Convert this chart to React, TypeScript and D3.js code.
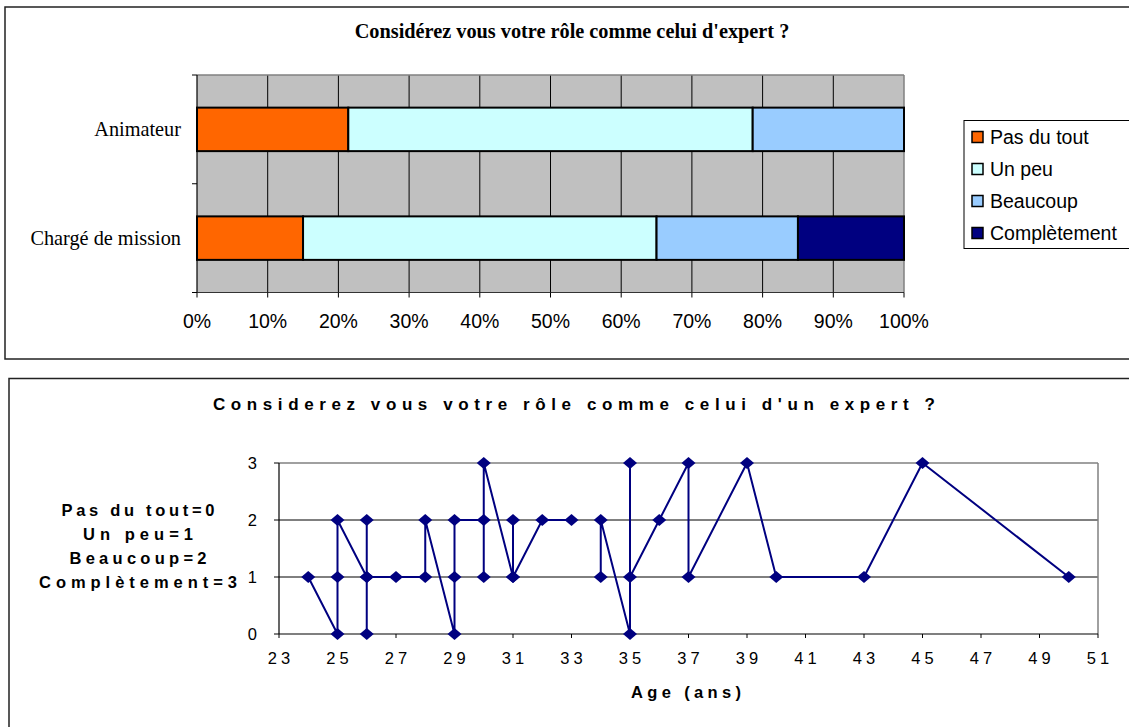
import React from "react";
import * as d3 from "d3";

// ---------- Data: top chart ----------
const categories = ["Animateur", "Chargé de mission"];
const responses = ["Pas du tout", "Un peu", "Beaucoup", "Complètement"];
const animateurShares = [21.4, 57.2, 21.4, 0];
const chargeShares = [15, 50, 20, 15];
const percentTicks = [0, 10, 20, 30, 40, 50, 60, 70, 80, 90, 100];
const responseColors = ["#FF6600", "#CCFFFF", "#99CCFF", "#000080"];

// ---------- Data: bottom chart ----------
const ages = [24, 25, 25, 25, 26, 26, 26, 26, 27, 28, 28, 29, 29, 29, 30, 30, 30, 31, 31, 31, 32, 33, null, 34, 34, 35, 35, 35, 36, 37, 37, 39, 40, 43, 45, 50];
const scores = [1, 0, 1, 2, 1, 0, 2, 1, 1, 1, 2, 0, 1, 2, 2, 1, 3, 1, 2, 1, 2, 2, null, 1, 2, 0, 3, 1, 2, 3, 1, 3, 1, 1, 3, 1];
const ageTicks = [23, 25, 27, 29, 31, 33, 35, 37, 39, 41, 43, 45, 47, 49, 51];
const scoreTicks = [0, 1, 2, 3];
const scoreLegend = ["Pas du tout=0", "Un peu=1", "Beaucoup=2", "Complètement=3"];
const scoreLegendWidths = [153, 110, 137, 198];

const SANS = "'Liberation Sans', Arial, sans-serif";
const SERIF = "'Liberation Serif', 'Times New Roman', serif";

export default function App() {
  // ---- top chart scales ----
  const xPct = d3.scaleLinear().domain([0, 100]).range([197, 904]);
  const yCat = d3.scaleBand<string>().domain(categories).range([75, 292.5]).paddingInner(0.6).paddingOuter(0.3);
  const step = yCat.step();
  const catTop = 75;
  const catBounds = d3.range(categories.length + 1).map((i) => catTop + i * step);
  const catBottom = catBounds[catBounds.length - 1];
  const shareRows = [animateurShares, chargeShares];
  const segments: { cat: string; idx: number; x0: number; x1: number }[] = [];
  categories.forEach((c, ci) => {
    let acc = 0;
    shareRows[ci].forEach((v, si) => {
      if (v > 0) segments.push({ cat: c, idx: si, x0: acc, x1: acc + v });
      acc += v;
    });
  });

  // ---- bottom chart scales ----
  const xAge = d3.scaleLinear().domain([23, 51]).range([279, 1098]);
  const yScore = d3.scaleLinear().domain([0, 3]).range([634, 463]);
  const pts = ages.map((a, i) => [a, scores[i]] as [number | null, number | null]);
  const lineGen = d3
    .line<[number | null, number | null]>()
    .defined((d) => d[0] != null && d[1] != null)
    .x((d) => xAge(d[0] as number))
    .y((d) => yScore(d[1] as number));
  const diamond = "M0,-6L7,0L0,6L-7,0Z";

  const pLeft = xPct.range()[0];
  const pRight = xPct.range()[1];
  const aLeft = xAge.range()[0];
  const aRight = xAge.range()[1];
  const sTop = yScore.range()[1];
  const sBottom = yScore.range()[0];

  return (
    <svg width={1129} height={727} style={{ position: "absolute", left: 0, top: 0, background: "#fff" }}>
      <rect x={0} y={0} width={1129} height={727} fill="#fff" />
      {/* ===== Top chart ===== */}
      <rect x={5} y={7} width={1140} height={352} fill="#fff" stroke="#222" strokeWidth={1.5} />
      <text x={572} y={31} dy="0.35em" textAnchor="middle" fontFamily={SERIF} fontWeight="bold" fontSize={20.3}>
        Considérez vous votre rôle comme celui d'expert ?
      </text>
      <rect x={pLeft} y={catTop} width={pRight - pLeft} height={catBottom - catTop} fill="#C0C0C0" />
      {percentTicks.slice(1, -1).map((t) => (
        <line key={"g" + t} x1={xPct(t)} x2={xPct(t)} y1={catTop} y2={catBottom} stroke="#000" strokeWidth={1} />
      ))}
      <line x1={pLeft} x2={pRight} y1={catTop} y2={catTop} stroke="#808080" strokeWidth={1.5} />
      <line x1={pRight} x2={pRight} y1={catTop} y2={catBottom} stroke="#808080" strokeWidth={1.5} />
      {segments.map((s, i) => (
        <rect
          key={"b" + i}
          x={xPct(s.x0)}
          y={yCat(s.cat) as number}
          width={xPct(s.x1) - xPct(s.x0)}
          height={yCat.bandwidth()}
          fill={responseColors[s.idx]}
          stroke="#000"
          strokeWidth={2}
        />
      ))}
      {/* category axis */}
      <line x1={pLeft} x2={pLeft} y1={catTop} y2={catBottom} stroke="#000" strokeWidth={1.2} />
      {catBounds.map((b, i) => (
        <line key={"ct" + i} x1={pLeft - 5} x2={pLeft} y1={b} y2={b} stroke="#000" strokeWidth={1} />
      ))}
      {categories.map((c) => (
        <text key={c} x={181} y={(yCat(c) as number) + yCat.bandwidth() / 2} dy="0.33em" textAnchor="end" fontFamily={SERIF} fontSize={20.3}>
          {c}
        </text>
      ))}
      {/* value axis */}
      <line x1={pLeft} x2={pRight} y1={catBottom} y2={catBottom} stroke="#333" strokeWidth={1.2} />
      {percentTicks.map((t) => (
        <g key={"xt" + t}>
          <line x1={xPct(t)} x2={xPct(t)} y1={catBottom} y2={catBottom + 5} stroke="#000" strokeWidth={1} />
          <text x={xPct(t)} y={321} dy="0.35em" textAnchor="middle" fontFamily={SANS} fontSize={19.5}>
            {t + "%"}
          </text>
        </g>
      ))}
      {/* legend */}
      <rect x={964} y={120.5} width={200} height={128} fill="#fff" stroke="#000" strokeWidth={1} />
      {responses.map((r, i) => (
        <g key={r} transform={`translate(0, ${137 + i * 32})`}>
          <rect x={972} y={-5.5} width={11} height={11} fill={responseColors[i]} stroke="#000" strokeWidth={1.5} />
          <text x={990} y={0} dy="0.35em" fontFamily={SANS} fontSize={19.5}>
            {r}
          </text>
        </g>
      ))}

      {/* ===== Bottom chart ===== */}
      <rect x={9} y={378.5} width={1140} height={360} fill="#fff" stroke="#222" strokeWidth={1.5} />
      <text x={574} y={404} dy="0.35em" textAnchor="middle" fontFamily={SANS} fontWeight="bold" fontSize={17} textLength={722} lengthAdjust="spacing">
        Considerez vous votre rôle comme celui d'un expert ?
      </text>
      {scoreLegend.map((s, i) => (
        <text key={s} x={138} y={510 + i * 24} dy="0.35em" textAnchor="middle" fontFamily={SANS} fontWeight="bold" fontSize={16.5} textLength={scoreLegendWidths[i]} lengthAdjust="spacing">
          {s}
        </text>
      ))}
      {/* gridlines */}
      {scoreTicks.slice(1, -1).map((t) => (
        <line key={"sg" + t} x1={aLeft} x2={aRight} y1={yScore(t)} y2={yScore(t)} stroke="#000" strokeWidth={1} />
      ))}
      <line x1={aLeft} x2={aRight} y1={sTop} y2={sTop} stroke="#808080" strokeWidth={1.5} />
      <line x1={aRight} x2={aRight} y1={sTop} y2={sBottom} stroke="#808080" strokeWidth={1.5} />
      {/* axes */}
      <line x1={aLeft} x2={aLeft} y1={sTop} y2={sBottom} stroke="#000" strokeWidth={1.2} />
      <line x1={aLeft} x2={aRight} y1={sBottom} y2={sBottom} stroke="#000" strokeWidth={1.2} />
      {scoreTicks.map((t) => (
        <g key={"yt" + t}>
          <line x1={aLeft - 5} x2={aLeft} y1={yScore(t)} y2={yScore(t)} stroke="#000" strokeWidth={1} />
          <text x={257} y={yScore(t)} dy="0.35em" textAnchor="end" fontFamily={SANS} fontSize={16.5}>
            {t}
          </text>
        </g>
      ))}
      {ageTicks.map((t) => (
        <g key={"at" + t}>
          <line x1={xAge(t)} x2={xAge(t)} y1={sBottom} y2={sBottom + 4} stroke="#000" strokeWidth={1} />
          <text x={xAge(t)} y={658} dy="0.35em" textAnchor="middle" fontFamily={SANS} fontSize={16.5} textLength={22.5} lengthAdjust="spacing">
            {t}
          </text>
        </g>
      ))}
      <text x={686} y={692} dy="0.35em" textAnchor="middle" fontFamily={SANS} fontWeight="bold" fontSize={16.5} textLength={110} lengthAdjust="spacing">
        Age (ans)
      </text>
      {/* series */}
      <path d={lineGen(pts) || ""} fill="none" stroke="#000080" strokeWidth={2} strokeLinejoin="round" />
      {pts
        .filter((d) => d[0] != null && d[1] != null)
        .map((d, i) => (
          <path key={"m" + i} d={diamond} transform={`translate(${xAge(d[0] as number)},${yScore(d[1] as number)})`} fill="#000080" />
        ))}
    </svg>
  );
}
